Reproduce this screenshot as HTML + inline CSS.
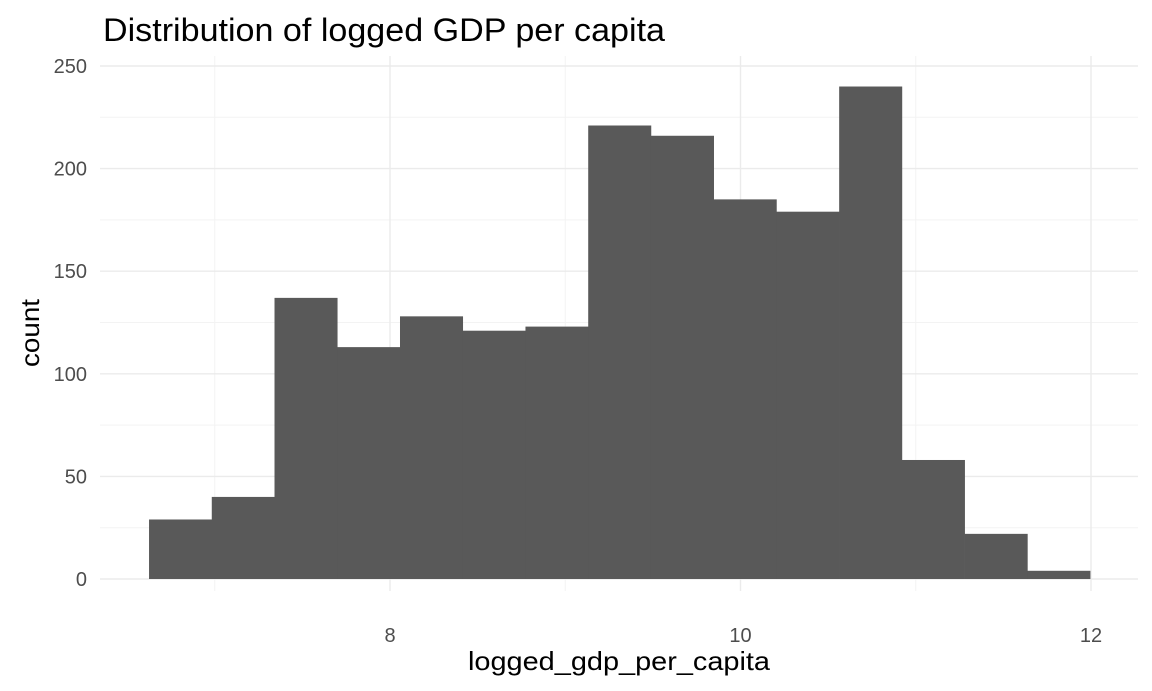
<!DOCTYPE html>
<html><head><meta charset="utf-8"><style>
html,body{margin:0;padding:0;background:#fff;}
svg{display:block;font-family:"Liberation Sans",Arial,sans-serif;}
</style></head><body>
<svg id="chart" width="1152" height="691"></svg>
<script>
const binStart = 6.625;
const binWidth = 0.358;
const counts = [29, 40, 137, 113, 128, 121, 123, 221, 216, 185, 179, 240, 58, 22, 4];
const yTicks = [0, 50, 100, 150, 200, 250];
const yMinor = [25, 75, 125, 175, 225];
const xTicks = [8, 10, 12];
const xMinor = [7, 9, 11];

const svg = document.getElementById('chart');
const NS = 'http://www.w3.org/2000/svg';
const px0 = 100, px1 = 1138, py0 = 56, py1 = 591;
function sx(v){ return 390 + (v - 8) * 175.25; }
function sy(v){ return 579 - v * 2.052; }
function mk(tag, attrs, parent){
  const e = document.createElementNS(NS, tag);
  for (const k in attrs) e.setAttribute(k, attrs[k]);
  (parent || svg).appendChild(e);
  return e;
}
const grid = mk('g', {});


yMinor.forEach(v => { const l = mk('line', {x1:px0, x2:px1, y1:sy(v), y2:sy(v), stroke:'#f3f3f3', 'stroke-width':1}, grid);   });
xMinor.forEach(v => { const l = mk('line', {x1:sx(v), x2:sx(v), y1:py0, y2:py1, stroke:'#f3f3f3', 'stroke-width':1}, grid);   });
yTicks.forEach(v => { const l = mk('line', {x1:px0, x2:px1, y1:sy(v), y2:sy(v), stroke:'#ebebeb', 'stroke-width':1.4}, grid);   });
xTicks.forEach(v => { const l = mk('line', {x1:sx(v), x2:sx(v), y1:py0, y2:py1, stroke:'#ebebeb', 'stroke-width':1.4}, grid);   });

const bars = mk('g', {});


counts.forEach((c, i) => {
  const xa = sx(binStart + i * binWidth), xb = sx(binStart + (i + 1) * binWidth);
  const r = mk('rect', {x:xa, y:sy(c), width:xb - xa + 0.3, height:sy(0) - sy(c), fill:'#595959'}, bars);
  
  
});

yTicks.forEach(v => {
  const t = mk('text', {x:87, y:sy(v) + 7, 'text-anchor':'end', 'font-size':20, fill:'#4d4d4d'});
  t.textContent = v;
  
  
});
xTicks.forEach(v => {
  const t = mk('text', {x:sx(v), y:642, 'text-anchor':'middle', 'font-size':20, fill:'#4d4d4d'});
  t.textContent = v;
  
  
});
const title = mk('text', {x:103, y:41, 'font-size':32, fill:'#000', textLength:562, lengthAdjust:'spacingAndGlyphs'});
title.textContent = 'Distribution of logged GDP per capita';


const xt = mk('text', {x:619, y:670, 'text-anchor':'middle', 'font-size':26, fill:'#000', textLength:302, lengthAdjust:'spacingAndGlyphs'});
xt.textContent = 'logged_gdp_per_capita';


const yt = mk('text', {x:0, y:0, 'text-anchor':'middle', 'font-size':26, fill:'#000', textLength:68, lengthAdjust:'spacingAndGlyphs', transform:'translate(39,333) rotate(-90)'});
yt.textContent = 'count';


</script>
</body></html>
